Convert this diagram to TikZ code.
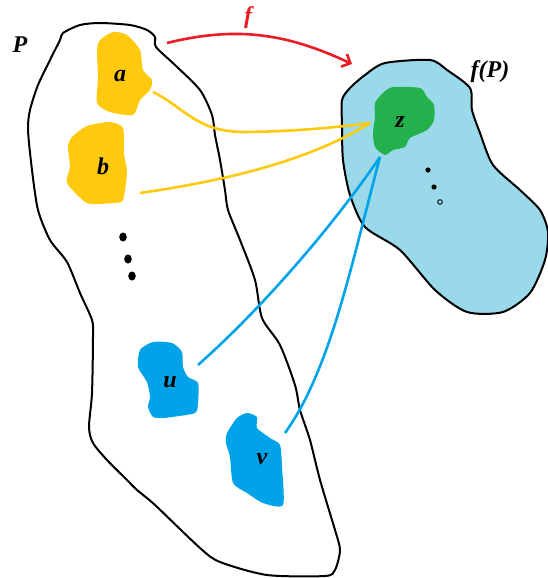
\documentclass[tikz,border=0pt]{standalone}
\usepackage{fontspec}
\setmainfont{Liberation Serif}
\usepackage{xcolor}
\usepackage{tikz}
\usetikzlibrary{arrows.meta,calc}
\definecolor{pyel}{HTML}{FFC90E}
\definecolor{pgrn}{HTML}{22B14C}
\definecolor{pblu}{HTML}{00A2E8}
\definecolor{pred}{HTML}{ED1C24}
\definecolor{plgt}{HTML}{99D9EA}

\begin{document}
\begin{tikzpicture}[x=1pt,y=-1pt,
  outl/.style={line width=2pt,black},
  blob/.style={draw=none,fill=#1},
  lbl/.style={font=\fontsize{24}{28}\selectfont\bfseries\itshape,inner sep=0pt},
  conn/.style={line width=2.6pt,#1}]
  \useasboundingbox (0,0) rectangle (548,578);
  % the set P and its image
  \draw[outl] plot[smooth cycle,tension=0.45] coordinates{(63,33)(80,25)(100,23)(130,25)(147,30)(155,37)(156,47)(175,65)(200,90)(212,115)(215,135)(220,160)(225,190)(228,210)(240,240)(255,280)(262,318)(280,345)(295,385)(300,410)(310,440)(320,480)(335,530)(340,550)(335,570)(325,576)(267,575)(220,562)(200,548)(155,505)(137,490)(127,480)(107,460)(93,443)(89,427)(92,393)(93,337)(92,320)(80,293)(67,262)(50,240)(38,210)(32,170)(28,130)(30,110)(38,85)(50,60)(60,40)};
  \draw[outl,fill=plgt] plot[smooth cycle,tension=0.45] coordinates{(342,100)(350,88)(365,75)(385,63)(430,60)(447,70)(470,88)(472,110)(480,133)(493,165)(520,190)(540,210)(548,232)(545,260)(530,293)(503,312)(467,312)(435,290)(400,250)(365,227)(350,195)(343,160)(342,125)};
  % elements
  \fill[pyel] plot[smooth cycle,tension=0.4] coordinates{(100,40)(113,32)(127,35)(140,50)(143,70)(152,80)(150,90)(140,100)(133,115)(110,112)(97,103)(98,77)(97,50)};
  \fill[pyel] plot[smooth cycle,tension=0.4] coordinates{(72,137)(87,126)(110,122)(123,128)(124,153)(127,173)(123,200)(113,203)(87,203)(67,183)(70,167)(68,147)};
  \fill[pgrn] plot[smooth cycle,tension=0.4] coordinates{(375,103)(383,93)(393,87)(420,88)(427,97)(434,105)(434,120)(427,130)(410,138)(405,147)(393,150)(385,155)(375,147)(373,133)(375,117)};
  \fill[pblu] plot[smooth cycle,tension=0.4] coordinates{(140,350)(153,342)(172,343)(182,352)(183,367)(188,377)(198,383)(198,403)(195,413)(172,417)(163,418)(153,417)(148,407)(150,397)(147,382)(138,367)};
  \fill[pblu] plot[smooth cycle,tension=0.4] coordinates{(227,433)(237,418)(247,413)(257,417)(257,428)(270,438)(280,445)(282,467)(283,505)(263,503)(247,493)(233,483)(230,457)(226,443)};
  % dots
  \foreach \p in {(123,237),(128,259),(132,276)}{\fill \p ellipse (3.8 and 4.5);}
  \fill (428,170) circle (2.6);\fill (434,187) circle (2.6);
  \draw[line width=0.9pt] (440,202) circle (2.3);
  % labels
  \node[lbl] (P) at (20,45) {P};
  \node[lbl] (fP) at (490,72) {f(P)};
  \node[lbl] (a) at (120,76) {a};
  \node[lbl] (b) at (103,166) {b};
  \node[lbl] (z) at (400,122) {z};
  \node[lbl] (u) at (170,382) {u};
  \node[lbl] (v) at (262,459) {v};
  \node[lbl,text=pred] (f) at (248,18) {f};
  % attachment points
  \coordinate (aR) at (153,92);\coordinate (bR) at (140,193);
  \coordinate (uR) at (198,365);\coordinate (vR) at (285,433);
  \coordinate (zL) at (370,123);\coordinate (zB) at (380,157);
  \coordinate (fs) at (167,43);\coordinate (fe) at (352,64);
  % connectors
  \draw[conn=pyel] (aR) .. controls (185,108) and (195,130) .. (240,132) .. controls (290,132) and (340,127) .. (zL);
  \draw[conn=pyel] (bR) .. controls (230,180) and (310,160) .. (zL);
  \draw[conn=pblu] (uR) .. controls (260,310) and (330,230) .. (zB);
  \draw[conn=pblu] (vR) .. controls (330,370) and (350,270) .. (zB);
  \draw[conn=pred,-{Straight Barb[angle'=90,length=7pt]}] (fs) .. controls (240,25) and (290,35) .. (fe);
\end{tikzpicture}
\end{document}
